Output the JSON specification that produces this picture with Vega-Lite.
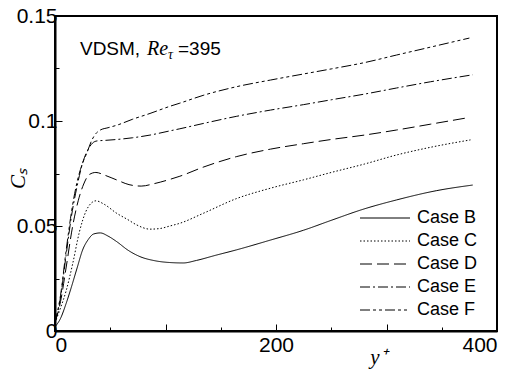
{
  "$schema": "https://vega.github.io/schema/vega-lite/v6.json",
  "width": 442,
  "height": 315,
  "autosize": "none",
  "padding": {"left": 55, "top": 16, "right": 17, "bottom": 40},
  "background": "white",
  "datasets": {
    "cs": [
      {"case": "Case B", "yplus": 0, "cs": 0.002}, {"case": "Case B", "yplus": 5, "cs": 0.006}, {"case": "Case B", "yplus": 10, "cs": 0.013},
      {"case": "Case B", "yplus": 14, "cs": 0.0195}, {"case": "Case B", "yplus": 20, "cs": 0.03}, {"case": "Case B", "yplus": 25, "cs": 0.0386},
      {"case": "Case B", "yplus": 30, "cs": 0.0435}, {"case": "Case B", "yplus": 35, "cs": 0.0462}, {"case": "Case B", "yplus": 41, "cs": 0.0467},
      {"case": "Case B", "yplus": 48, "cs": 0.0452}, {"case": "Case B", "yplus": 56, "cs": 0.0425}, {"case": "Case B", "yplus": 66, "cs": 0.0385},
      {"case": "Case B", "yplus": 77, "cs": 0.0354}, {"case": "Case B", "yplus": 90, "cs": 0.0335}, {"case": "Case B", "yplus": 104, "cs": 0.0326},
      {"case": "Case B", "yplus": 116, "cs": 0.0324}, {"case": "Case B", "yplus": 128, "cs": 0.0336}, {"case": "Case B", "yplus": 145, "cs": 0.036},
      {"case": "Case B", "yplus": 164, "cs": 0.0386}, {"case": "Case B", "yplus": 195, "cs": 0.0433}, {"case": "Case B", "yplus": 225, "cs": 0.048},
      {"case": "Case B", "yplus": 250, "cs": 0.0527}, {"case": "Case B", "yplus": 279, "cs": 0.058}, {"case": "Case B", "yplus": 309, "cs": 0.0624},
      {"case": "Case B", "yplus": 345, "cs": 0.0668}, {"case": "Case B", "yplus": 378, "cs": 0.0695},

      {"case": "Case C", "yplus": 0, "cs": 0.004}, {"case": "Case C", "yplus": 5, "cs": 0.011}, {"case": "Case C", "yplus": 10, "cs": 0.019},
      {"case": "Case C", "yplus": 16, "cs": 0.032}, {"case": "Case C", "yplus": 22, "cs": 0.047}, {"case": "Case C", "yplus": 28, "cs": 0.057},
      {"case": "Case C", "yplus": 33, "cs": 0.061}, {"case": "Case C", "yplus": 37, "cs": 0.062}, {"case": "Case C", "yplus": 44, "cs": 0.0605},
      {"case": "Case C", "yplus": 56, "cs": 0.056}, {"case": "Case C", "yplus": 66, "cs": 0.053}, {"case": "Case C", "yplus": 74, "cs": 0.0505},
      {"case": "Case C", "yplus": 86, "cs": 0.0485}, {"case": "Case C", "yplus": 95, "cs": 0.0488}, {"case": "Case C", "yplus": 104, "cs": 0.05},
      {"case": "Case C", "yplus": 113, "cs": 0.0513}, {"case": "Case C", "yplus": 134, "cs": 0.056}, {"case": "Case C", "yplus": 164, "cs": 0.063},
      {"case": "Case C", "yplus": 195, "cs": 0.068}, {"case": "Case C", "yplus": 225, "cs": 0.072}, {"case": "Case C", "yplus": 250, "cs": 0.0755},
      {"case": "Case C", "yplus": 280, "cs": 0.0795}, {"case": "Case C", "yplus": 309, "cs": 0.0838}, {"case": "Case C", "yplus": 340, "cs": 0.0875},
      {"case": "Case C", "yplus": 376, "cs": 0.091},

      {"case": "Case D", "yplus": 0, "cs": 0.004}, {"case": "Case D", "yplus": 5, "cs": 0.014}, {"case": "Case D", "yplus": 10, "cs": 0.03},
      {"case": "Case D", "yplus": 16, "cs": 0.05}, {"case": "Case D", "yplus": 21, "cs": 0.062}, {"case": "Case D", "yplus": 26, "cs": 0.07},
      {"case": "Case D", "yplus": 31, "cs": 0.0745}, {"case": "Case D", "yplus": 37, "cs": 0.0755}, {"case": "Case D", "yplus": 45, "cs": 0.0742},
      {"case": "Case D", "yplus": 56, "cs": 0.0719}, {"case": "Case D", "yplus": 67, "cs": 0.0697}, {"case": "Case D", "yplus": 78, "cs": 0.069},
      {"case": "Case D", "yplus": 90, "cs": 0.0702}, {"case": "Case D", "yplus": 104, "cs": 0.0722}, {"case": "Case D", "yplus": 113, "cs": 0.0737},
      {"case": "Case D", "yplus": 134, "cs": 0.078}, {"case": "Case D", "yplus": 164, "cs": 0.083}, {"case": "Case D", "yplus": 195, "cs": 0.0866},
      {"case": "Case D", "yplus": 225, "cs": 0.0892}, {"case": "Case D", "yplus": 250, "cs": 0.0912}, {"case": "Case D", "yplus": 280, "cs": 0.0933},
      {"case": "Case D", "yplus": 309, "cs": 0.0957}, {"case": "Case D", "yplus": 340, "cs": 0.0985}, {"case": "Case D", "yplus": 374, "cs": 0.1016},

      {"case": "Case E", "yplus": 0, "cs": 0.004}, {"case": "Case E", "yplus": 5, "cs": 0.016}, {"case": "Case E", "yplus": 10, "cs": 0.036},
      {"case": "Case E", "yplus": 15, "cs": 0.055}, {"case": "Case E", "yplus": 20, "cs": 0.069}, {"case": "Case E", "yplus": 25, "cs": 0.08},
      {"case": "Case E", "yplus": 30, "cs": 0.0865}, {"case": "Case E", "yplus": 34, "cs": 0.0895}, {"case": "Case E", "yplus": 38, "cs": 0.0905},
      {"case": "Case E", "yplus": 46, "cs": 0.0908}, {"case": "Case E", "yplus": 56, "cs": 0.0912}, {"case": "Case E", "yplus": 70, "cs": 0.092},
      {"case": "Case E", "yplus": 86, "cs": 0.0933}, {"case": "Case E", "yplus": 104, "cs": 0.0953}, {"case": "Case E", "yplus": 113, "cs": 0.0963},
      {"case": "Case E", "yplus": 134, "cs": 0.0988}, {"case": "Case E", "yplus": 164, "cs": 0.1022}, {"case": "Case E", "yplus": 195, "cs": 0.1052},
      {"case": "Case E", "yplus": 225, "cs": 0.1078}, {"case": "Case E", "yplus": 250, "cs": 0.1101}, {"case": "Case E", "yplus": 280, "cs": 0.1128},
      {"case": "Case E", "yplus": 309, "cs": 0.1157}, {"case": "Case E", "yplus": 340, "cs": 0.1187}, {"case": "Case E", "yplus": 378, "cs": 0.122},

      {"case": "Case F", "yplus": 0, "cs": 0.004}, {"case": "Case F", "yplus": 5, "cs": 0.017}, {"case": "Case F", "yplus": 10, "cs": 0.038},
      {"case": "Case F", "yplus": 15, "cs": 0.057}, {"case": "Case F", "yplus": 20, "cs": 0.071}, {"case": "Case F", "yplus": 25, "cs": 0.08},
      {"case": "Case F", "yplus": 29, "cs": 0.085}, {"case": "Case F", "yplus": 33, "cs": 0.0905}, {"case": "Case F", "yplus": 37, "cs": 0.094},
      {"case": "Case F", "yplus": 41, "cs": 0.0957}, {"case": "Case F", "yplus": 48, "cs": 0.0968}, {"case": "Case F", "yplus": 56, "cs": 0.098},
      {"case": "Case F", "yplus": 70, "cs": 0.1008}, {"case": "Case F", "yplus": 86, "cs": 0.1036}, {"case": "Case F", "yplus": 104, "cs": 0.107},
      {"case": "Case F", "yplus": 113, "cs": 0.1085}, {"case": "Case F", "yplus": 134, "cs": 0.1122}, {"case": "Case F", "yplus": 164, "cs": 0.1163},
      {"case": "Case F", "yplus": 195, "cs": 0.1195}, {"case": "Case F", "yplus": 225, "cs": 0.1224}, {"case": "Case F", "yplus": 250, "cs": 0.1248},
      {"case": "Case F", "yplus": 280, "cs": 0.1278}, {"case": "Case F", "yplus": 309, "cs": 0.1314}, {"case": "Case F", "yplus": 340, "cs": 0.1352},
      {"case": "Case F", "yplus": 375, "cs": 0.1395}
    ]
  },
  "layer": [
    {
      "data": {"name": "cs"},
      "mark": {"type": "line", "interpolate": "monotone", "strokeWidth": 1, "color": "black"},
      "encoding": {
        "x": {
          "field": "yplus", "type": "quantitative",
          "scale": {"domain": [0, 400], "nice": false, "zero": false},
          "axis": {
            "values": [0, 50, 100, 150, 200, 250, 300, 350, 400],
            "labelExpr": "datum.value % 200 === 0 ? datum.label : ''",
            "tickSize": {"condition": {"test": "datum.value % 100 === 0", "value": -7}, "value": -4},
            "labelPadding": 10,
            "title": "y⁺",
            "titleFont": "Liberation Serif",
            "titleFontStyle": "italic",
            "titleFontWeight": "normal",
            "titleFontSize": 21,
            "titleX": 323,
            "titleY": 32,
            "titleBaseline": "alphabetic",
            "titleAlign": "center"
          }
        },
        "y": {
          "field": "cs", "type": "quantitative",
          "scale": {"domain": [0, 0.15], "nice": false, "zero": false},
          "axis": {
            "values": [0, 0.025, 0.05, 0.075, 0.1, 0.125, 0.15],
            "labelExpr": "round(datum.value * 40) % 2 === 0 ? format(datum.value, '~g') : ''",
            "tickSize": {"condition": {"test": "round(datum.value * 40) % 2 === 0", "value": -7}, "value": -4},
            "labelPadding": 5,
            "title": "Cₛ",
            "titleFont": "Liberation Serif",
            "titleFontStyle": "italic",
            "titleFontWeight": "normal",
            "titleFontSize": 21,
            "titleX": -37,
            "titleY": 162,
            "titleAlign": "center",
            "titleBaseline": "middle"
          }
        },
        "detail": {"field": "case"},
        "strokeDash": {
          "field": "case", "type": "nominal",
          "scale": {
            "domain": ["Case B", "Case C", "Case D", "Case E", "Case F"],
            "range": [[1, 0], [1.5, 2], [12, 5], [10, 3, 2, 3], [10, 3, 3, 3, 3, 3]]
          },
          "legend": {
            "title": null,
            "orient": "none",
            "legendX": 321,
            "legendY": 193,
            "padding": 0,
            "symbolType": "M-5,0H5",
            "symbolSize": 100,
            "symbolStrokeWidth": 1,
            "symbolStrokeColor": "black",
            "labelFont": "Liberation Sans",
            "labelFontSize": 18,
            "labelColor": "black",
            "labelOffset": 23,
            "rowPadding": 5
          }
        }
      }
    },
    {
      "data": {"values": [{}]},
      "mark": {"type": "text", "align": "left", "baseline": "alphabetic", "font": "Liberation Sans", "fontSize": 19, "color": "black"},
      "encoding": {"x": {"datum": 22.6}, "y": {"datum": 0.1314}, "text": {"value": "VDSM,"}}
    },
    {
      "data": {"values": [{}]},
      "mark": {"type": "text", "align": "left", "baseline": "alphabetic", "font": "Liberation Serif", "fontStyle": "italic", "fontSize": 20, "color": "black"},
      "encoding": {"x": {"datum": 83.3}, "y": {"datum": 0.1314}, "text": {"value": "Re"}}
    },
    {
      "data": {"values": [{}]},
      "mark": {"type": "text", "align": "left", "baseline": "alphabetic", "font": "Liberation Serif", "fontStyle": "italic", "fontSize": 14, "color": "black"},
      "encoding": {"x": {"datum": 102.3}, "y": {"datum": 0.1295}, "text": {"value": "τ"}}
    },
    {
      "data": {"values": [{}]},
      "mark": {"type": "text", "align": "left", "baseline": "alphabetic", "font": "Liberation Sans", "fontSize": 19, "color": "black"},
      "encoding": {"x": {"datum": 111.3}, "y": {"datum": 0.1314}, "text": {"value": "=395"}}
    }
  ],
  "config": {
    "view": {"stroke": "black", "strokeWidth": 2},
    "axis": {
      "grid": false,
      "domainColor": "black",
      "domainWidth": 2,
      "tickColor": "black",
      "tickWidth": 1,
      "labelFont": "Liberation Sans",
      "labelFontSize": 21,
      "labelColor": "black",
      "titleColor": "black"
    }
  }
}
